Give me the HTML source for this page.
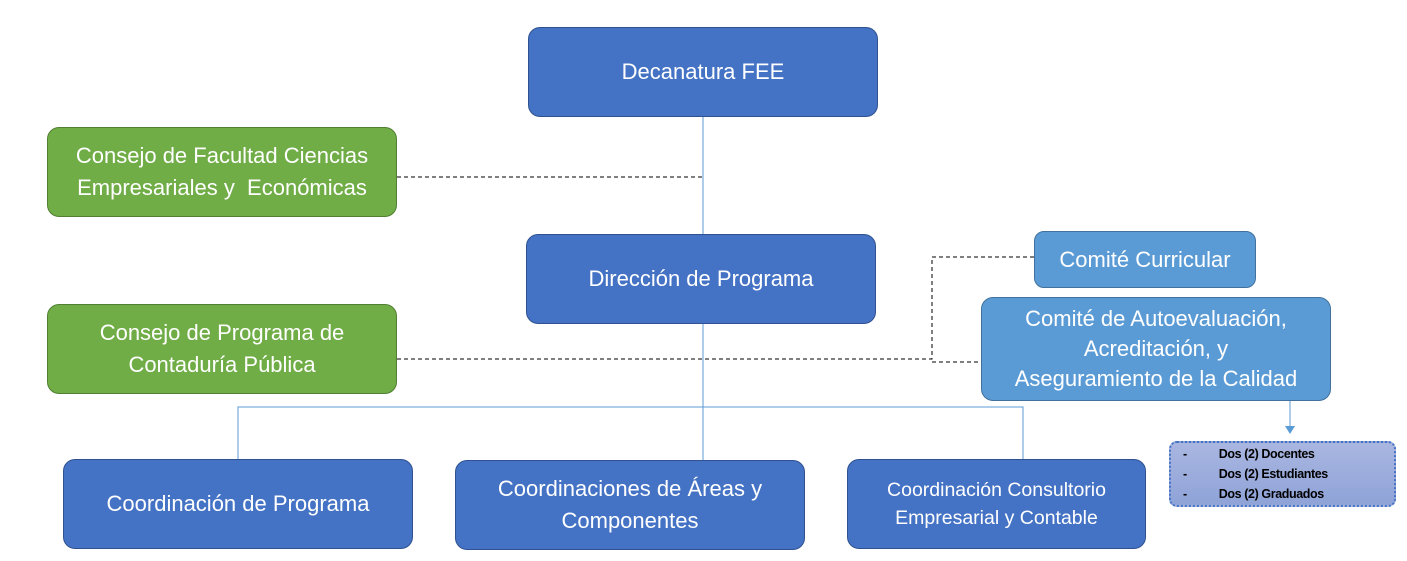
<!DOCTYPE html>
<html><head><meta charset="utf-8"><style>
body{margin:0;width:1407px;height:561px;background:#fff;position:relative;overflow:hidden;font-family:"Liberation Sans",sans-serif}
.b{position:absolute;box-sizing:border-box;border-radius:12px;color:#fff;display:flex;align-items:center;justify-content:center;text-align:center;line-height:32px;font-size:22px;white-space:nowrap}
.d{background:#4472C4;border:1px solid #2F528F}
.g{background:#70AD47;border:1px solid #507E32}
.l{background:#5B9BD5;border:1px solid #41719C}
</style></head><body>
<svg width="1407" height="561" style="position:absolute;left:0;top:0">
<g stroke="#5B9BD5" stroke-width="1" fill="none">
<line x1="703" y1="117" x2="703" y2="234"/>
<line x1="703" y1="324" x2="703" y2="460"/>
<polyline points="238,459 238,407 1023,407 1023,459"/>
<line x1="1290" y1="401" x2="1290" y2="427"/>
</g>
<polygon points="1285,426 1295,426 1290,434" fill="#5B9BD5"/>
<g stroke="#000" stroke-width="1" stroke-dasharray="4,3" fill="none">
<line x1="397" y1="177" x2="703" y2="177"/>
<polyline points="397,359 932,359 932,257 1034,257"/>
<line x1="932" y1="362" x2="981" y2="362"/>
</g>
</svg>
<div class="b d" style="left:528px;top:27px;width:350px;height:90px">Decanatura FEE</div>
<div class="b g" style="left:47px;top:127px;width:350px;height:90px">Consejo de Facultad Ciencias<br>Empresariales y&nbsp; Económicas</div>
<div class="b d" style="left:526px;top:234px;width:350px;height:90px">Dirección de Programa</div>
<div class="b l" style="left:1034px;top:231px;width:222px;height:57px;border-radius:10px">Comité Curricular</div>
<div class="b l" style="left:981px;top:297px;width:350px;height:104px;line-height:30px">Comité de Autoevaluación,<br>Acreditación, y<br>Aseguramiento de la Calidad</div>
<div class="b g" style="left:47px;top:304px;width:350px;height:90px">Consejo de Programa de<br>Contaduría Pública</div>
<div class="b d" style="left:63px;top:459px;width:350px;height:90px">Coordinación de Programa</div>
<div class="b d" style="left:455px;top:460px;width:350px;height:90px">Coordinaciones de Áreas y<br>Componentes</div>
<div class="b d" style="left:847px;top:459px;width:299px;height:90px;font-size:19.5px;line-height:28px">Coordinación Consultorio<br>Empresarial y Contable</div>
<div style="position:absolute;left:1169px;top:441px;width:227px;height:66px;box-sizing:border-box;border:2px dotted #4472C4;border-radius:8px;background:linear-gradient(#a9b6e0,#8fa3d8);font-size:12.5px;font-weight:bold;color:#000;line-height:20px;padding-top:1px;letter-spacing:-0.4px">
<div style="padding-left:12px">-<span style="margin-left:32px">Dos (2) Docentes</span></div>
<div style="padding-left:12px;margin-top:0px">-<span style="margin-left:32px">Dos (2) Estudiantes</span></div>
<div style="padding-left:12px;margin-top:0px">-<span style="margin-left:32px">Dos (2) Graduados</span></div>
</div>
</body></html>
